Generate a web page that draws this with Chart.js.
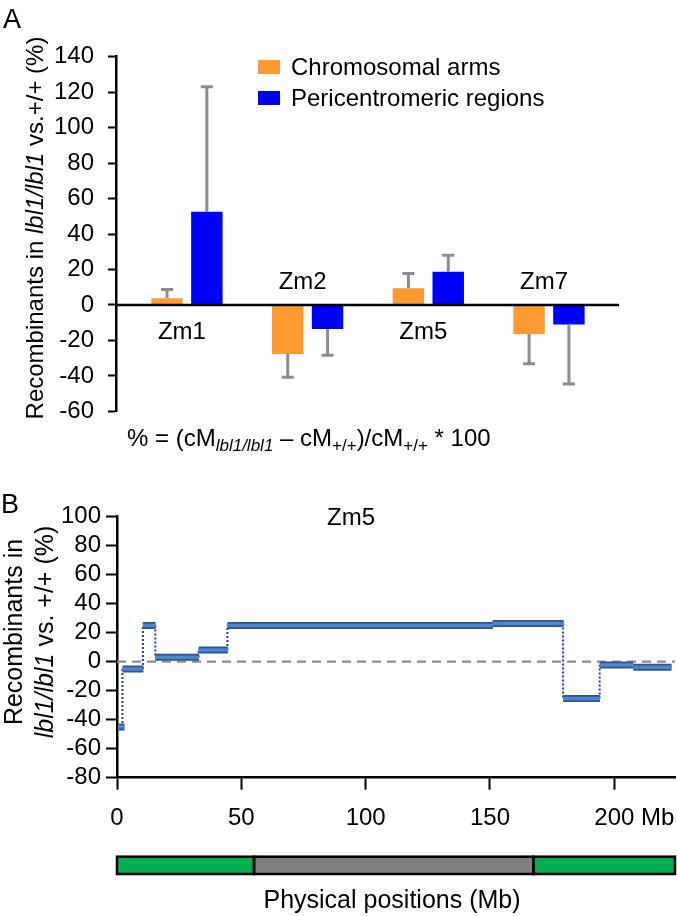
<!DOCTYPE html>
<html><head><meta charset="utf-8">
<script src="https://cdn.jsdelivr.net/npm/chart.js@4.4.1/dist/chart.umd.min.js"></script>
<style>
html,body{margin:0;padding:0;background:#fff;}
#wrap{position:relative;width:677px;height:916px;overflow:hidden;font-family:'Liberation Sans',Arial,sans-serif;color:#000;}
canvas{position:absolute;left:0;}
.t{position:absolute;white-space:nowrap;font-size:24px;line-height:1;}
.c{transform:translate(-50%,-50%);}
.r{transform:translate(-50%,-50%) rotate(-90deg);text-align:center;}
sub{font-size:17px;vertical-align:-0.3em;line-height:0;}
</style></head><body>
<div id="wrap">
<canvas id="cA" width="677" height="460" style="top:0"></canvas>
<canvas id="cB" width="677" height="446" style="top:470px"></canvas>
<div class="t c" style="left:12px;top:19px;font-size:27px">A</div>
<div class="t c" style="left:10px;top:504px;font-size:27px">B</div>
<div class="t r" style="left:35px;top:228px">Recombinants in <i>lbl1/lbl1</i> vs.+/+ (%)</div>
<div class="t" style="left:127px;top:438px;transform:translateY(-50%)">% = (cM<sub><i>lbl1/lbl1</i></sub> – cM<sub>+/+</sub>)/cM<sub>+/+</sub> * 100</div>
<div class="t c" style="left:351px;top:517px">Zm5</div>
<div class="t r" style="left:29px;top:632px;line-height:31px;font-size:25px">Recombinants in<br><i>lbl1/lbl1</i> vs. +/+ (%)</div>
<div class="t c" style="left:392px;top:899px;font-size:25px">Physical positions (Mb)</div>
</div>
<script>
// ---------- Panel A data ----------
const categories = ['Zm1', 'Zm2', 'Zm5', 'Zm7'];
const seriesLabels = ['Chromosomal arms', 'Pericentromeric regions'];
const armsValues = [3.8, -27.7, 9.4, -16.3];
const armsErrors = [5.0, 13.1, 8.4, 16.8];
const periValues = [52.6, -13.6, 18.7, -11.0];
const periErrors = [70.5, 14.8, 9.3, 33.5];
const yTicksA = [-60, -40, -20, 0, 20, 40, 60, 80, 100, 120, 140];

// ---------- Panel B data (Zm5) ----------
const segStart = [0.8, 2.2, 10.4, 15.4, 32.8, 44.4, 151.0, 179.4, 194.1, 207.6];
const segEnd   = [3.0, 10.6, 15.5, 33.0, 44.6, 151.2, 179.6, 194.2, 207.6, 223.0];
const segValue = [-45, -5, 25, 3, 8, 25, 26.3, -25.3, -2.3, -3.9];
const yTicksB = [-80, -60, -40, -20, 0, 20, 40, 60, 80, 100];
const xTicksB = [0, 50, 100, 150, 200];
const chromLength = 224.4;
const regionStart = [0, 55.1, 167.5];
const regionEnd = [55.1, 167.5, 224.4];
const regionKind = ['arm', 'pericentromere', 'arm'];

Chart.defaults.font.family = "'Liberation Sans', Arial, sans-serif";
Chart.defaults.color = '#000';

const FS = 24;
const FONT = FS + 'px "Liberation Sans", Arial, sans-serif';
const barColors = ['#FF9A33', '#0000FF'];
const errLists = [armsErrors, periErrors];

const pluginA = {
  id: 'pA',
  afterDatasetsDraw(chart) {
    const ctx = chart.ctx, ya = chart.scales.y, xa = chart.scales.x, ca = chart.chartArea;
    ctx.save();
    // error bars
    ctx.strokeStyle = '#8C8C8C';
    ctx.lineWidth = 3;
    chart.data.datasets.forEach((ds, di) => {
      const meta = chart.getDatasetMeta(di);
      meta.data.forEach((bar, i) => {
        const v = ds.data[i].y, e = errLists[di][i];
        const end = v + (v >= 0 ? e : -e);
        const y1 = ya.getPixelForValue(v), y2 = ya.getPixelForValue(end);
        ctx.beginPath();
        ctx.moveTo(bar.x, y1); ctx.lineTo(bar.x, y2);
        ctx.moveTo(bar.x - 6, y2); ctx.lineTo(bar.x + 6, y2);
        ctx.stroke();
      });
    });
    // zero line
    const y0 = ya.getPixelForValue(0);
    ctx.strokeStyle = '#000'; ctx.lineWidth = 2.5;
    ctx.beginPath(); ctx.moveTo(ca.left, y0); ctx.lineTo(ca.right, y0); ctx.stroke();
    // category labels
    ctx.fillStyle = '#000'; ctx.font = FONT; ctx.textAlign = 'center'; ctx.textBaseline = 'middle';
    categories.forEach((c, i) => {
      const x = xa.getPixelForValue(i) - 5;
      const y = armsValues[i] >= 0 ? y0 + 27 : y0 - 23;
      ctx.fillText(c, x, y);
    });
    // legend
    ctx.textAlign = 'left';
    chart.data.datasets.forEach((ds, di) => {
      const cy = 67 + di * 31;
      ctx.fillStyle = ds.backgroundColor;
      ctx.fillRect(258, cy - 7, 22, 14);
      ctx.fillStyle = '#000';
      ctx.fillText(ds.label, 291, cy + 1);
    });
    ctx.restore();
  }
};

new Chart(document.getElementById('cA'), {
  type: 'bar',
  data: {
    datasets: [
      { label: seriesLabels[0], data: categories.map((c, i) => ({ x: i, y: armsValues[i] })), backgroundColor: barColors[0] },
      { label: seriesLabels[1], data: categories.map((c, i) => ({ x: i, y: periValues[i] })), backgroundColor: barColors[1] }
    ]
  },
  options: {
    responsive: false, animation: false, events: [],
    layout: { padding: { left: 0, right: 58, top: 56.7, bottom: 48.6 } },
    plugins: { legend: { display: false }, tooltip: { enabled: false } },
    datasets: { bar: { barPercentage: 0.79, categoryPercentage: 0.66 } },
    scales: {
      x: {
        type: 'linear', min: -0.588, max: 3.58, display: false, offset: false,
        grid: { offset: false },
        afterBuildTicks: s => { s.ticks = categories.map((c, i) => ({ value: i })); }
      },
      y: {
        min: -60, max: 140,
        afterBuildTicks: s => { s.ticks = yTicksA.map(v => ({ value: v })); },
        afterFit: s => { s.width = 116; },
        ticks: { font: { size: FS }, color: '#000', padding: 14, autoSkip: false },
        grid: { drawOnChartArea: false, tickLength: 8, tickWidth: 2, tickColor: '#000' },
        border: { display: true, color: '#000', width: 2.5 }
      }
    }
  },
  plugins: [pluginA]
});

// ---------- Panel B ----------
const thickPts = [];
segStart.forEach((s, i) => {
  thickPts.push({ x: s, y: segValue[i] }, { x: segEnd[i], y: segValue[i] });
  if (i < segStart.length - 1) thickPts.push({ x: (segEnd[i] + segStart[i + 1]) / 2, y: null });
});
const connPts = [];
for (let i = 1; i < segStart.length; i++) {
  connPts.push({ x: segStart[i], y: segValue[i - 1] }, { x: segStart[i], y: segValue[i] }, { x: segStart[i] + 0.01, y: null });
}
const regionColors = { arm: '#00B050', pericentromere: '#808080' };
const X_TICK_LEN = 12, X_TICK_PAD = 14;

const pluginB = {
  id: 'pB',
  beforeDatasetsDraw(chart) {
    const ctx = chart.ctx, ya = chart.scales.y, ca = chart.chartArea;
    const y0 = ya.getPixelForValue(0);
    ctx.save();
    ctx.strokeStyle = '#8C8C8C'; ctx.lineWidth = 2.2; ctx.setLineDash([9, 6]);
    ctx.beginPath(); ctx.moveTo(ca.left, y0); ctx.lineTo(ca.right, y0); ctx.stroke();
    ctx.restore();
  },
  afterDraw(chart) {
    const ctx = chart.ctx, xa = chart.scales.x, ca = chart.chartArea;
    ctx.save();
    // " Mb" unit after the last tick label
    ctx.font = FONT; ctx.fillStyle = '#000'; ctx.textBaseline = 'middle'; ctx.textAlign = 'left';
    const lastTick = xTicksB[xTicksB.length - 1];
    const w = ctx.measureText(String(lastTick)).width;
    const ly = xa.top + X_TICK_LEN + X_TICK_PAD + FS * 1.2 / 2;
    ctx.fillText(' Mb', xa.getPixelForValue(lastTick) + w / 2, ly);
    // chromosome bar
    const top = ca.bottom + 79, h = 17.3;
    regionStart.forEach((s, i) => {
      const x1 = xa.getPixelForValue(s), x2 = xa.getPixelForValue(regionEnd[i]);
      ctx.fillStyle = regionColors[regionKind[i]];
      ctx.fillRect(x1, top, x2 - x1, h);
    });
    ctx.strokeStyle = '#000'; ctx.lineWidth = 2.5;
    regionStart.forEach((s, i) => {
      const x1 = xa.getPixelForValue(s), x2 = xa.getPixelForValue(regionEnd[i]);
      ctx.strokeRect(x1, top, x2 - x1, h);
    });
    ctx.restore();
  }
};

new Chart(document.getElementById('cB'), {
  type: 'line',
  data: {
    datasets: [
      { data: thickPts, borderColor: '#5283C6', borderWidth: 3.5, pointRadius: 0, spanGaps: false, borderCapStyle: 'butt' },
      { data: thickPts, borderColor: '#2F5591', borderWidth: 7, pointRadius: 0, spanGaps: false, borderCapStyle: 'butt' },
      { data: connPts, borderColor: '#1F3FA3', borderWidth: 2, borderDash: [2, 2], pointRadius: 0, spanGaps: false }
    ]
  },
  options: {
    responsive: false, animation: false, events: [],
    layout: { padding: { left: 0, right: 2, top: 46.7, bottom: 78.3 } },
    plugins: { legend: { display: false }, tooltip: { enabled: false } },
    scales: {
      x: {
        type: 'linear', min: 0, max: chromLength,
        afterBuildTicks: s => { s.ticks = xTicksB.map(v => ({ value: v })); },
        afterFit: s => { s.height = 60; },
        ticks: { font: { size: FS }, color: '#000', padding: X_TICK_PAD, maxRotation: 0, autoSkip: false },
        grid: { drawOnChartArea: false, tickLength: X_TICK_LEN, tickWidth: 2, tickColor: '#000' },
        border: { display: true, color: '#000', width: 2.5 }
      },
      y: {
        min: -80, max: 100,
        afterBuildTicks: s => { s.ticks = yTicksB.map(v => ({ value: v })); },
        afterFit: s => { s.width = 117; },
        ticks: { font: { size: FS }, color: '#000', padding: 5, autoSkip: false },
        grid: { drawOnChartArea: false, tickLength: 11, tickWidth: 2, tickColor: '#000' },
        border: { display: true, color: '#000', width: 2.5 }
      }
    }
  },
  plugins: [pluginB]
});
</script>
</body></html>
